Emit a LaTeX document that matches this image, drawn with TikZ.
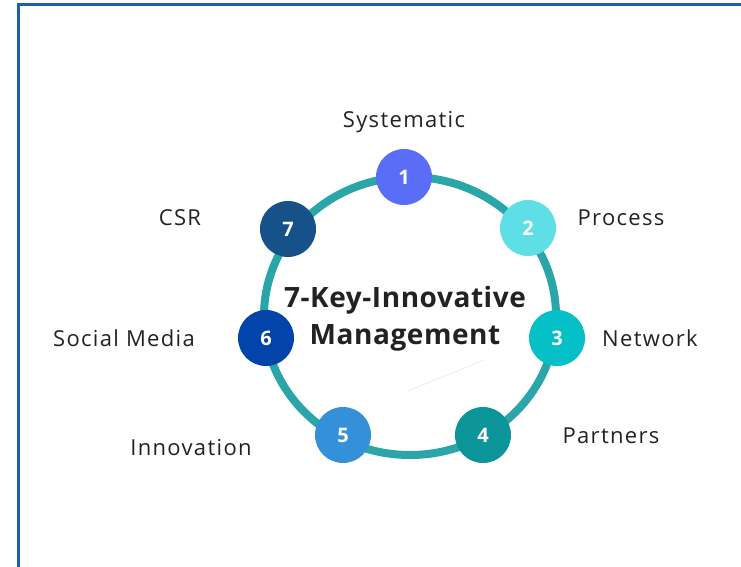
\documentclass[tikz,border=0pt]{standalone}
\usepackage{fontspec}
\setmainfont{Open Sans}
\newfontfamily\lblfont{Open Sans}[LetterSpace=6]
\newfontfamily\titlefont{Open Sans}[LetterSpace=2]
\usepackage{tikz}
\usetikzlibrary{positioning}

\definecolor{frameblue}{HTML}{1F5FAA}
\definecolor{ringteal}{HTML}{2AA6A8}
\definecolor{keyone}{HTML}{5A6DF6}
\definecolor{keytwo}{HTML}{5EDFE6}
\definecolor{keythree}{HTML}{05C0C6}
\definecolor{keyfour}{HTML}{0B9598}
\definecolor{keyfive}{HTML}{3590DA}
\definecolor{keysix}{HTML}{0344AB}
\definecolor{keyseven}{HTML}{17518A}
\definecolor{txtdark}{HTML}{222222}

\begin{document}
\begin{tikzpicture}[
  x=1pt,y=-1pt,
  key/.style={circle,minimum size=56pt,inner sep=0pt,text=white,
    font=\fontsize{20}{20}\selectfont\bfseries},
  lbl/.style={text=txtdark,font=\lblfont\fontsize{22}{22}\selectfont},
  title/.style={text=txtdark,font=\titlefont\fontsize{28}{37}\selectfont\bfseries,align=center}
]
\useasboundingbox (0,0) rectangle (741,567);
% frame (top and left only)
\draw[frameblue,line width=3pt] (18,567) -- (18,5) -- (741,5);
% ring
\draw[ringteal,line width=8pt] (410,316) ellipse (146 and 139);
\draw[black!10,line width=0.6pt] (408,391) -- (484,360);
% the seven keys
\node[key,fill=keyone]   (k1) at (404,177) {1};
\node[key,fill=keytwo]   (k2) at (528,228) {2};
\node[key,fill=keythree] (k3) at (557,338) {3};
\node[key,fill=keyfour]  (k4) at (483,435) {4};
\node[key,fill=keyfive]  (k5) at (343,435) {5};
\node[key,fill=keysix]   (k6) at (266,338) {6};
\node[key,fill=keyseven] (k7) at (288,229) {7};
% labels
\node[lbl] (l1) at (404,122) {Systematic};
\node[lbl] (l2) at (621,218) {Process};
\node[lbl] (l3) at (650,338) {Network};
\node[lbl] (l4) at (611,436) {Partners};
\node[lbl] (l5) at (191,448) {Innovation};
\node[lbl] (l6) at (124,338) {Social Media};
\node[lbl] (l7) at (180,218) {CSR};
\node[title] (t) at (405,319) {7-Key-Innovative\\Management};
\end{tikzpicture}
\end{document}
